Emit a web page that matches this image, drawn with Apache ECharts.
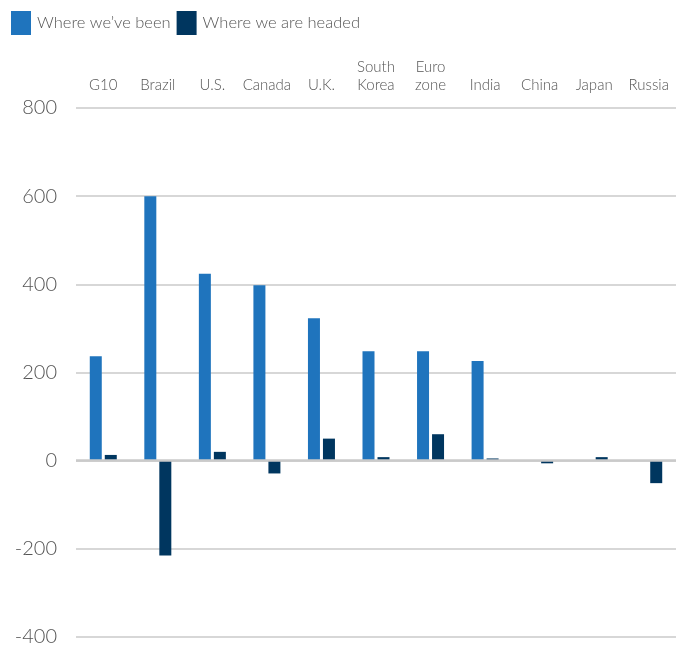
<!DOCTYPE html>
<html>
<head>
<meta charset="utf-8">
<script src="https://cdn.jsdelivr.net/npm/echarts@6/dist/echarts.min.js"></script>
<style>html,body{margin:0;padding:0;background:#fff;}#chart{width:684px;height:647px;}</style>
</head>
<body>
<div id="chart"></div>
<script>
const categories = ["G10", "Brazil", "U.S.", "Canada", "U.K.", "South\nKorea", "Euro\nzone", "India", "China", "Japan", "Russia"];
const whereWeveBeen = [237, 600, 424, 398, 323, 248, 248, 226, 0, 0, 0];
const whereWeAreHeaded = [13, -215, 20, -29, 50, 8, 60, 5, -6, 8, -51];
const yTicks = { min: -400, max: 800, interval: 200 };

const FONT = 'Lato';
const chart = echarts.init(document.getElementById('chart'));
chart.setOption({
  animation: false,
  textStyle: { fontFamily: FONT },
  legend: {
    left: 11, top: 11, padding: 0,
    icon: 'rect',
    itemWidth: 20, itemHeight: 24, itemGap: 6,
    textStyle: { fontSize: 16.5, color: '#555', fontFamily: FONT, fontWeight: 300, padding: [0, 0, 0, 1] },
    data: ['Where we\u2019ve been', 'Where we are headed']
  },
  grid: { left: 76, right: 8, top: 108, bottom: 8 },
  xAxis: {
    type: 'category',
    position: 'top',
    data: categories,
    axisLine: { show: false },
    axisTick: { show: false },
    axisLabel: { fontSize: 15, color: '#555', lineHeight: 18, margin: 14, interval: 0, fontWeight: 300 }
  },
  yAxis: {
    type: 'value',
    min: yTicks.min, max: yTicks.max, interval: yTicks.interval,
    axisLine: { show: false },
    axisTick: { show: false },
    axisLabel: { fontSize: 20, color: '#555', margin: 19, fontWeight: 300 },
    splitLine: { lineStyle: { color: '#cacaca', width: 1.5 } }
  },
  series: [
    {
      name: 'Where we\u2019ve been', type: 'bar', data: whereWeveBeen,
      barWidth: 12, barGap: '25%',
      itemStyle: { color: '#1f74bd' },
      markLine: {
        silent: true, symbol: 'none', label: { show: false },
        lineStyle: { color: '#cacaca', width: 2.5, type: 'solid' },
        data: [{ yAxis: 0 }]
      }
    },
    {
      name: 'Where we are headed', type: 'bar', data: whereWeAreHeaded,
      barWidth: 12,
      itemStyle: { color: '#00365f' }
    }
  ]
});
</script>
</body>
</html>
